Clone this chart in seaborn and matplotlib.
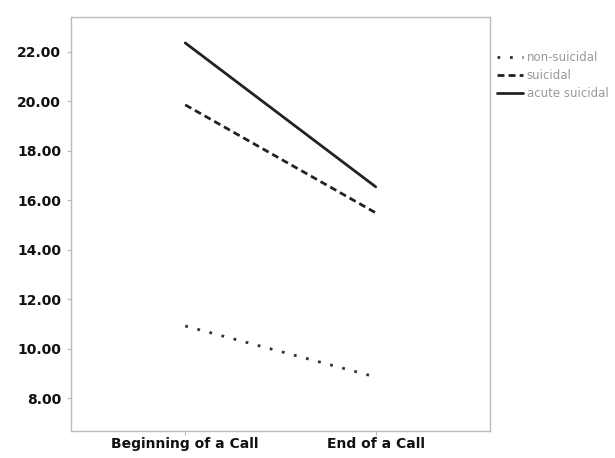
import matplotlib
matplotlib.use("Agg")
import matplotlib.pyplot as plt
import seaborn as sns
import pandas as pd

times = ["Beginning of a Call", "End of a Call"]
groups = ["non-suicidal", "suicidal", "acute suicidal"]
non_suicidal = [10.92, 8.86]
suicidal = [19.85, 15.49]
acute_suicidal = [22.35, 16.54]
yticks = [8, 10, 12, 14, 16, 18, 20, 22]

rows = []
for g, vals in zip(groups, [non_suicidal, suicidal, acute_suicidal]):
    for i, (t, v) in enumerate(zip(times, vals)):
        rows.append({"time": t, "pos": i, "group": g, "value": v})
df = pd.DataFrame(rows)

sns.set_style("white")
plt.rcParams["font.family"] = ["DejaVu Sans"]
fig = plt.figure(figsize=(6.15, 4.58), dpi=100)
ax = fig.add_axes([0.1154, 0.059, 0.6813, 0.904])

sns.lineplot(data=df, x="pos", y="value", hue="group", style="group",
             hue_order=groups, style_order=groups,
             palette={"non-suicidal": "#333333", "suicidal": "#222222", "acute suicidal": "#222222"},
             dashes={"non-suicidal": (1, 3.5), "suicidal": (2.5, 1.5), "acute suicidal": ""},
             linewidth=2.0, ax=ax, legend=True)

ax.set_xlim(-0.6, 1.6)
ax.set_ylim(6.68, 23.4)
ax.set_xticks([0, 1])
ax.set_xticklabels(times, fontsize=10, fontweight="bold", color="#111111")
ax.set_yticks(yticks)
ax.set_yticklabels([f"{v:.2f}" for v in yticks], fontsize=10, fontweight="bold", color="#111111")
ax.set_xlabel("")
ax.set_ylabel("")
for s in ax.spines.values():
    s.set_color("#bbbbbb")
    s.set_linewidth(1.0)
ax.tick_params(axis="y", which="both", length=3, color="#bbbbbb", width=0.8, pad=4, direction="out")
ax.tick_params(axis="x", which="both", length=3, color="#bbbbbb", width=0.8, pad=1, direction="out")
ax.tick_params(bottom=True, left=True)

leg = ax.legend(loc="upper left", bbox_to_anchor=(1.0, 0.935), frameon=False,
                fontsize=8.5, handlelength=2.2, handletextpad=0.3, labelspacing=0.42,
                borderaxespad=0.2)
for t in leg.get_texts():
    t.set_color("#999999")

fig.savefig("out.png", dpi=100)
